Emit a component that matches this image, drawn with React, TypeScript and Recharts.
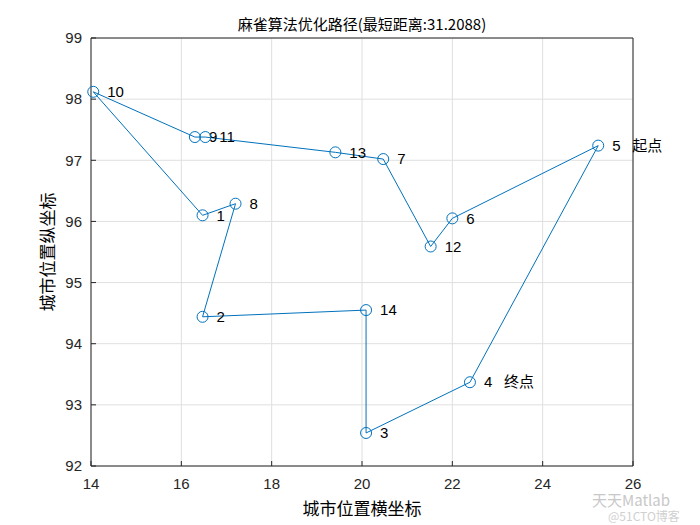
import { ScatterChart, Scatter, XAxis, YAxis, CartesianGrid, ReferenceLine } from 'recharts';

// burma14 cities
const cityIds = [1, 2, 3, 4, 5, 6, 7, 8, 9, 10, 11, 12, 13, 14];
const cityX = [16.47, 16.47, 20.09, 22.39, 25.23, 22.0, 20.47, 17.2, 16.3, 14.05, 16.53, 21.52, 19.41, 20.09];
const cityY = [96.1, 94.44, 92.54, 93.37, 97.24, 96.05, 97.02, 96.29, 97.38, 98.12, 97.38, 95.59, 97.13, 94.55];
const route = [5, 6, 12, 7, 13, 11, 9, 10, 1, 8, 2, 14, 3, 4, 5];
const startCity = 5;
const endCity = 4;

const xTicks = [14, 16, 18, 20, 22, 24, 26];
const yTicks = [92, 93, 94, 95, 96, 97, 98, 99];

const title = '麻雀算法优化路径(最短距离:31.2088)';
const xLabel = '城市位置横坐标';
const yLabel = '城市位置纵坐标';

const cities = cityIds.map((id, i) => ({ id, x: cityX[i], y: cityY[i] }));
const path = route.map((id) => ({ id, x: cityX[id - 1], y: cityY[id - 1] }));

const BLUE = '#0072BD';
const AXIS = '#262626';
const FONT = '"Liberation Sans", Arial, "Noto Sans CJK SC", sans-serif';
const CJK = '"Noto Sans CJK SC", "Liberation Sans", sans-serif';

const CityMark = (props: any) => {
  const { cx, cy, payload } = props;
  const extra = payload.id === startCity ? '起点' : payload.id === endCity ? '终点' : null;
  return (
    <g>
      <circle cx={cx} cy={cy} r={5.5} fill="none" stroke={BLUE} strokeWidth={1} />
      <text x={cx + 14} y={cy} dy="0.35em" fontSize={15} fontFamily={FONT} fill="#000">
        {payload.id}
      </text>
      {extra && (
        <text x={cx + 34} y={cy} dy="0.35em" fontSize={15} fontFamily={CJK} fill="#000">
          {extra}
        </text>
      )}
    </g>
  );
};

const tickStyle = { fontSize: 15, fontFamily: FONT, fill: AXIS };

export default function App() {
  return (
    <div style={{ position: 'absolute', left: 0, top: 0, width: 700, height: 525, background: '#fff' }}>
      <ScatterChart width={700} height={525} margin={{ top: 38, right: 67, bottom: 0, left: 0 }}>
        <CartesianGrid stroke="#dfdfdf" />
        <XAxis
          type="number"
          dataKey="x"
          domain={[14, 26]}
          ticks={xTicks}
          height={59}
          axisLine={{ stroke: AXIS }}
          tickLine={{ stroke: AXIS }}
          tickSize={-5}
          tickMargin={17}
          tick={tickStyle}
        />
        <XAxis
          xAxisId="top"
          orientation="top"
          type="number"
          dataKey="x"
          domain={[14, 26]}
          ticks={xTicks}
          height={0}
          axisLine={{ stroke: AXIS }}
          tickLine={{ stroke: AXIS }}
          tickSize={-5}
          tickFormatter={() => ''}
        />
        <YAxis
          type="number"
          dataKey="y"
          domain={[92, 99]}
          ticks={yTicks}
          width={91}
          axisLine={{ stroke: AXIS }}
          tickLine={{ stroke: AXIS }}
          tickSize={-5}
          tickMargin={14}
          tick={tickStyle}
        />
        <YAxis
          yAxisId="right"
          orientation="right"
          type="number"
          dataKey="y"
          domain={[92, 99]}
          ticks={yTicks}
          width={0}
          axisLine={{ stroke: AXIS }}
          tickLine={{ stroke: AXIS }}
          tickSize={-5}
          tickFormatter={() => ''}
        />
        <ReferenceLine y={99} stroke={AXIS} />
        <ReferenceLine x={26} stroke={AXIS} />
        <Scatter
          data={path}
          line={{ stroke: BLUE, strokeWidth: 1 }}
          lineJointType="linear"
          shape={() => <g />}
          isAnimationActive={false}
        />
        <Scatter data={cities} shape={CityMark} isAnimationActive={false} />
      </ScatterChart>
      <div
        style={{
          position: 'absolute', left: 91, width: 542, top: 14, textAlign: 'center',
          fontSize: 15, fontFamily: CJK, color: '#000', lineHeight: '20px', whiteSpace: 'nowrap',
        }}
      >
        {title}
      </div>
      <div
        style={{
          position: 'absolute', left: 91, width: 542, top: 497, textAlign: 'center',
          fontSize: 17, fontFamily: CJK, color: '#000', lineHeight: '22px',
        }}
      >
        {xLabel}
      </div>
      <div
        style={{
          position: 'absolute', left: 47 - 100, top: 252 - 11, width: 200, textAlign: 'center',
          fontSize: 17, fontFamily: CJK, color: '#000', lineHeight: '22px', transform: 'rotate(-90deg)',
        }}
      >
        {yLabel}
      </div>
      <div
        style={{
          position: 'absolute', left: 592, top: 492, fontSize: 15, lineHeight: '16px',
          fontFamily: CJK, color: '#c8c8c8', whiteSpace: 'nowrap',
        }}
      >
        天天Matlab
      </div>
      <div
        style={{
          position: 'absolute', left: 608, top: 509, fontSize: 12, lineHeight: '13px',
          fontFamily: CJK, color: '#d0d0d0', whiteSpace: 'nowrap',
        }}
      >
        @51CTO博客
      </div>
    </div>
  );
}
